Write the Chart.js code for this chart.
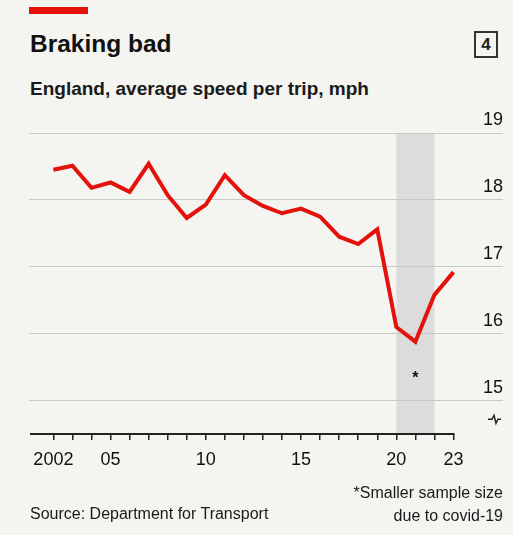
<!DOCTYPE html>
<html>
<head>
<meta charset="utf-8">
<script src="https://cdn.jsdelivr.net/npm/chart.js@4/dist/chart.umd.min.js"></script>
<style>
  html, body { margin: 0; padding: 0; }
  body { width: 513px; height: 535px; background: #f4f4f1; position: relative; overflow: hidden;
         font-family: "Liberation Sans", Arial, sans-serif; color: #1a1a1a; }
  #chart { position: absolute; left: 0; top: 0; }
  .abs { position: absolute; white-space: nowrap; }
  #bar { left: 29px; top: 7px; width: 59px; height: 7px; background: #e3120b; }
  #title { left: 30px; top: 30px; font-size: 24.5px; font-weight: bold; line-height: 28px; color: #111; }
  #subtitle { left: 30px; top: 78px; font-size: 19px; font-weight: bold; line-height: 22px; color: #1a1a1a; }
  #box { left: 474px; top: 31px; width: 20px; height: 23px; border: 2px solid #333; font-size: 17px; font-weight: bold;
         text-align: center; line-height: 23px; color: #222; }
  #source { left: 30px; top: 505px; font-size: 16px; line-height: 18px; }
  #note { right: 10px; top: 481px; font-size: 16px; line-height: 23px; text-align: right; }
</style>
</head>
<body>
<div class="abs" id="bar"></div>
<div class="abs" id="title">Braking bad</div>
<div class="abs" id="subtitle">England, average speed per trip, mph</div>
<div class="abs" id="box">4</div>
<canvas id="chart" width="513" height="535"></canvas>
<div class="abs" id="source">Source: Department for Transport</div>
<div class="abs" id="note">*Smaller sample size<br>due to covid-19</div>
<script>
// ---- data ----
const years = [2002, 2003, 2004, 2005, 2006, 2007, 2008, 2009, 2010, 2011, 2012,
               2013, 2014, 2015, 2016, 2017, 2018, 2019, 2020, 2021, 2022, 2023];
const speeds = [18.45, 18.51, 18.18, 18.26, 18.12, 18.54, 18.07, 17.73, 17.93, 18.37, 18.07,
                17.91, 17.80, 17.87, 17.75, 17.45, 17.34, 17.56, 16.10, 15.88, 16.58, 16.92];
const xTickYears = [2002, 2005, 2010, 2015, 2020, 2023];
const xTickLabels = ['2002', '05', '10', '15', '20', '23'];
const yTicks = [15, 16, 17, 18, 19];
const covidYears = [2020, 2022];
const footnoteYear = 2021;
const footnoteMark = '*';

const FONT = '"Liberation Sans", Arial, sans-serif';

const extras = {
  id: 'extras',
  beforeDraw(chart) {
    const { ctx, chartArea, scales: { x, y } } = chart;
    ctx.save();
    ctx.fillStyle = '#dcdcdc';
    const x0 = x.getPixelForValue(covidYears[0]);
    const x1 = x.getPixelForValue(covidYears[1]);
    const yTop = y.getPixelForValue(yTicks[yTicks.length - 1]);
    ctx.fillRect(x0, yTop, x1 - x0, chartArea.bottom - yTop);
    ctx.restore();
  },
  afterDatasetsDraw(chart) {
    const { ctx, chartArea, scales: { x, y } } = chart;
    ctx.save();
    // axis baseline
    ctx.strokeStyle = '#222';
    ctx.lineWidth = 2;
    ctx.beginPath();
    ctx.moveTo(chartArea.left + 1, chartArea.bottom);
    ctx.lineTo(x.getPixelForValue(years[years.length - 1]) + 1, chartArea.bottom);
    ctx.stroke();
    // axis break symbol
    const bx = chartArea.right - 15, by = y.getPixelForValue(14.72);
    ctx.lineWidth = 1.5;
    ctx.beginPath();
    ctx.moveTo(bx, by);
    ctx.lineTo(bx + 4, by);
    ctx.lineTo(bx + 6, by - 4);
    ctx.lineTo(bx + 8, by + 4);
    ctx.lineTo(bx + 10, by);
    ctx.lineTo(bx + 13, by);
    ctx.stroke();
    // footnote mark
    ctx.fillStyle = '#111';
    ctx.font = 'bold 16px ' + FONT;
    ctx.textAlign = 'center';
    ctx.textBaseline = 'middle';
    ctx.fillText(footnoteMark, x.getPixelForValue(footnoteYear), y.getPixelForValue(15.33));
    ctx.restore();
  }
};

new Chart(document.getElementById('chart'), {
  type: 'line',
  data: {
    datasets: [{
      data: years.map((yr, i) => ({ x: yr, y: speeds[i] })),
      borderColor: '#e3120b',
      borderWidth: 4,
      pointRadius: 0,
      tension: 0,
      borderJoinStyle: 'miter',
      fill: false
    }]
  },
  options: {
    responsive: false,
    animation: false,
    devicePixelRatio: 1,
    layout: { padding: { left: 29, right: 10, top: 133, bottom: 61 } },
    plugins: { legend: { display: false }, tooltip: { enabled: false } },
    scales: {
      x: {
        type: 'linear',
        min: 2000.72,
        max: 2025.6,
        afterBuildTicks(scale) { scale.ticks = years.map(v => ({ value: v })); },
        afterFit(scale) { scale.height = 40; },
        border: { display: false },
        grid: { drawOnChartArea: false, drawTicks: true, tickLength: 6, color: '#222', lineWidth: 1.5 },
        ticks: {
          autoSkip: false, maxRotation: 0, padding: 9,
          color: '#111',
          font: { family: FONT, size: 18 },
          callback(v) { const k = xTickYears.indexOf(v); return k >= 0 ? xTickLabels[k] : ''; }
        }
      },
      y: {
        type: 'linear',
        position: 'right',
        min: 14.5,
        max: 19,
        afterBuildTicks(scale) { scale.ticks = yTicks.map(v => ({ value: v })); },
        border: { display: false },
        grid: { drawTicks: false, color: '#c8c8c8', lineWidth: 1 },
        ticks: {
          mirror: true, padding: 0, labelOffset: -13,
          color: '#111',
          font: { family: FONT, size: 18 },
          callback(v) { return String(v); }
        }
      }
    }
  },
  plugins: [extras]
});
</script>
</body>
</html>
